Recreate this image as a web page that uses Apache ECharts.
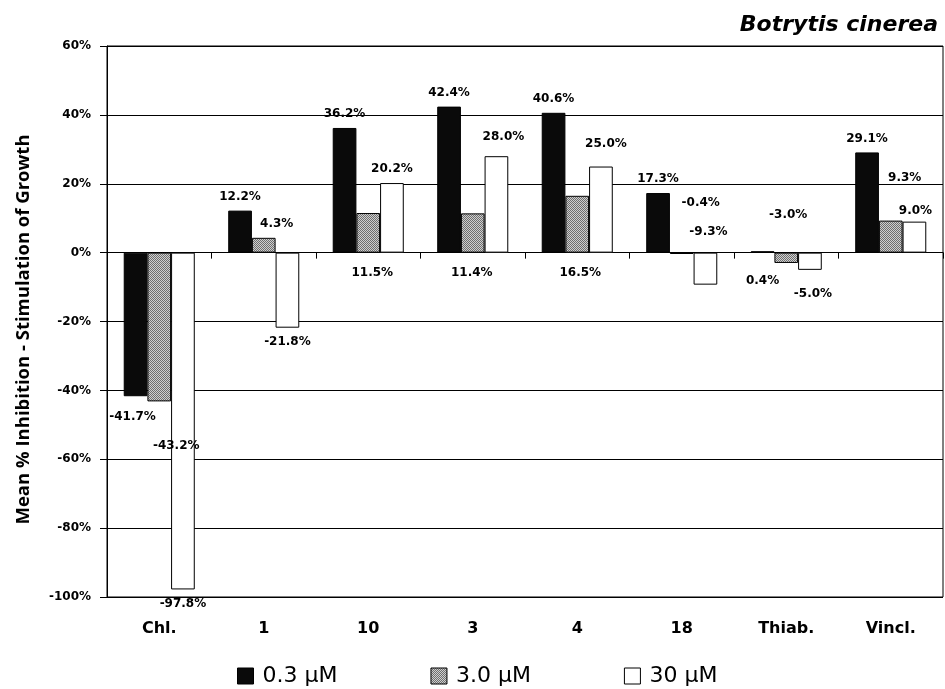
<!DOCTYPE html>
<html>
<head>
<meta charset="utf-8">
<script src="https://cdn.jsdelivr.net/npm/echarts@6/dist/echarts.min.js"></script>
<style>
  html, body { margin: 0; padding: 0; background: #fff; }
  #chart { width: 945px; height: 689px; }
</style>
</head>
<body>
<div id="chart"></div>
<script>
// Compounds tested
const categories = ['Chl.', '1', '10', '3', '4', '18', 'Thiab.', 'Vincl.'];

// Concentrations (legend entries)
const seriesNames = ['0.3 µM', '3.0 µM', '30 µM'];

// Mean % inhibition (-) / stimulation (+) of growth, per concentration
const conc03 = [-41.7, 12.2, 36.2, 42.4, 40.6, 17.3, 0.4, 29.1];
const conc3 = [-43.2, 4.3, 11.5, 11.4, 16.5, -0.4, -3.0, 9.3];
const conc30 = [-97.8, -21.8, 20.2, 28.0, 25.0, -9.3, -5.0, 9.0];

// Value axis range and step (%)
const yMin = -100, yMax = 60, yStep = 20;

// Hand-placed data label nudges [dx, dy] in pixels, per series
const labelNudge = [
  [[-3, 7], [0, 0], [0, 0], [0, 0], [0, 0], [0, 0], [0, 44], [0, 0]],
  [[17, 30], [13, 0], [4, 74], [-1, 74], [3, 91], [19, -65], [2, -62], [14, -29]],
  [[0, 0], [0, 0], [0, 0], [7, -5], [5, -9], [3, -67], [3, 10], [1, 3]]
];

// Fine dotted grey fill for the middle concentration
function ditherPattern() {
  const c = document.createElement('canvas');
  c.width = 2; c.height = 2;
  const g = c.getContext('2d');
  g.fillStyle = '#cfcfcf'; g.fillRect(0, 0, 2, 2);
  g.fillStyle = '#6e6e6e'; g.fillRect(0, 0, 1, 1); g.fillRect(1, 1, 1, 1);
  return c;
}

const fills = ['#0a0a0a', { image: ditherPattern(), repeat: 'repeat' }, '#ffffff'];
const seriesValues = [conc03, conc3, conc30];

const labelFont = { fontFamily: 'DejaVu Sans', fontWeight: 'bold', fontSize: 12, color: '#000' };

const series = seriesValues.map((vals, si) => ({
  name: seriesNames[si],
  type: 'bar',
  xAxisIndex: 0,
  barGap: '0%',
  barCategoryGap: '32%',
  itemStyle: { color: fills[si], borderColor: '#000', borderWidth: 1 },
  label: {
    show: true,
    position: 'outside',
    distance: 8,
    ...labelFont,
    formatter: p => p.value.toFixed(1) + '%'
  },
  data: vals.map((v, i) => ({
    value: v,
    label: { offset: labelNudge[si][i] }
  }))
}));

const chart = echarts.init(document.getElementById('chart'), null, { renderer: 'canvas' });
chart.setOption({
  backgroundColor: '#fff',
  animation: false,
  title: {
    text: 'Botrytis cinerea',
    right: 2,
    top: 9,
    textStyle: {
      fontFamily: 'DejaVu Sans',
      fontStyle: 'italic',
      fontWeight: 'bold',
      fontSize: 22,
      color: '#000'
    }
  },
  grid: {
    left: 107, right: 2, top: 46, bottom: 92,
    show: true, borderColor: '#000', borderWidth: 1, backgroundColor: 'transparent'
  },
  legend: {
    data: seriesNames,
    left: 232,
    top: 660,
    icon: 'rect',
    itemWidth: 16,
    itemHeight: 16,
    itemGap: 93,
    itemStyle: { borderColor: '#000', borderWidth: 1 },
    textStyle: { fontFamily: 'DejaVu Sans', fontSize: 22, color: '#000', padding: [0, 0, 0, 4] }
  },
  xAxis: [
    {
      type: 'category',
      data: categories,
      position: 'bottom',
      axisLine: { show: false, onZero: false },
      axisTick: { show: false },
      axisLabel: {
        margin: 24,
        fontFamily: 'DejaVu Sans', fontWeight: 'bold', fontSize: 16, color: '#000'
      }
    },
    {
      type: 'category',
      data: categories,
      position: 'bottom',
      axisLine: { show: true, onZero: true, lineStyle: { color: '#000', width: 1 } },
      axisTick: { show: true, length: 6, lineStyle: { color: '#000' } },
      axisLabel: { show: false }
    }
  ],
  yAxis: {
    type: 'value',
    min: yMin, max: yMax, interval: yStep,
    name: 'Mean % Inhibition - Stimulation of Growth',
    nameLocation: 'middle',
    nameRotate: 90,
    nameGap: 74,
    nameTextStyle: {
      fontFamily: 'Open Sans', fontWeight: 'bold', fontSize: 18.5, color: '#000',
      padding: [0, 16, 0, 0]
    },
    axisLine: { show: true, lineStyle: { color: '#000', width: 1 } },
    axisTick: { show: true, length: 7, lineStyle: { color: '#000' } },
    axisLabel: {
      margin: 16,
      fontFamily: 'DejaVu Sans', fontWeight: 'bold', fontSize: 12, color: '#000',
      formatter: '{value}%'
    },
    splitLine: { show: true, lineStyle: { color: '#000', width: 1 } }
  },
  series: series
});
</script>
</body>
</html>
